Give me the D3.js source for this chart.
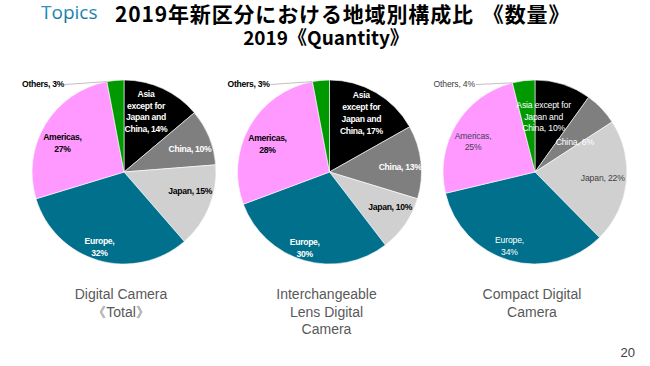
<!DOCTYPE html>
<html><head><meta charset="utf-8">
<script src="https://cdn.jsdelivr.net/npm/d3@7"></script>
<style>
html,body{margin:0;padding:0;background:#fff;}
svg{display:block;}
</style></head>
<body>
<svg id="c" width="650" height="366"></svg>
<script>
// ---------- data ----------
const regions = ["Asia except for Japan and China", "China", "Japan", "Europe", "Americas", "Others"];
const charts = ["Digital Camera 《Total》", "Interchangeable Lens Digital Camera", "Compact Digital Camera"];
const totalValues = [14, 10, 15, 32, 27, 3];
const ilcValues = [17, 13, 10, 30, 28, 3];
const compactValues = [10, 6, 22, 34, 25, 4];
const seriesValues = [totalValues, ilcValues, compactValues];
const captionLines = [["Digital Camera", "《Total》"], ["Interchangeable", "Lens Digital", "Camera"], ["Compact Digital", "Camera"]];
const labelBreaks = [
  [["Asia", "except for", "Japan and", "China, {v}%"], ["China, {v}%"], ["Japan, {v}%"], ["Europe,", "{v}%"], ["Americas,", "{v}%"], ["Others, {v}%"]],
  [["Asia", "except for", "Japan and", "China, {v}%"], ["China, {v}%"], ["Japan, {v}%"], ["Europe,", "{v}%"], ["Americas,", "{v}%"], ["Others, {v}%"]],
  [["Asia except for", "Japan and", "China, {v}%"], ["China, {v}%"], ["Japan, {v}%"], ["Europe,", "{v}%"], ["Americas,", "{v}%"], ["Others, {v}%"]]
];
const titleMain = "2019年新区分における地域別構成比";
const titleTail = "《数量》";
const subtitleText = "2019《Quantity》";
const pageNumber = "20";

// ---------- layout / style ----------
const colors = ["#000000", "#7f7f7f", "#d0d0d0", "#00708c", "#ff99ff", "#009a00"];
const labelColorsBold = ["#ffffff", "#ffffff", "#000000", "#ffffff", "#000000", "#000000"];
const labelColorsThin = ["#ffffff", "#ffffff", "#404040", "#ffffff", "#4a3c58", "#404040"];
// radial factor and angle offset (deg) for each inner label
const labelR = [[0.70, 0.76, 0.75, 0.86, 0.74], [0.73, 0.77, 0.76, 0.87, 0.74], [0.61, 0.54, 0.74, 0.85, 0.75]];
const labelDA = [[-5, 3, -6, 2, -6], [-2, 2, -5, 2, -5], [-9, 7, -1, 3, -5]];

const svg = d3.select("#c");
const R = 92, cy = 172;
const xPos = d3.scalePoint().domain(charts).range([124, 535]);
const color = d3.scaleOrdinal().domain(regions).range(colors);

const pie = d3.pie().sort(null).value(d => d.v);
const arc = d3.arc().innerRadius(0).outerRadius(R);

// ---------- header ----------
const defs = svg.append("defs");
const g1 = defs.append("linearGradient").attr("id", "tg").attr("x1", 0).attr("y1", 0).attr("x2", 0).attr("y2", 1);
g1.append("stop").attr("offset", "0%").attr("stop-color", "#3aa6d6");
g1.append("stop").attr("offset", "100%").attr("stop-color", "#0d6888");

svg.append("text").attr("x", 41).attr("y", 19).attr("fill", "url(#tg)")
  .style("font-family", "'Open Sans','Liberation Sans',sans-serif").style("font-size", "19px").style("font-weight", 400)
  .text("Topics");

const title = svg.append("text").attr("x", 115).attr("y", 22).attr("fill", "#000")
  .style("font-family", "'Noto Sans CJK JP',sans-serif").style("font-size", "21px").style("font-weight", 700)
  .style("letter-spacing", "0.85px");
title.append("tspan").text(titleMain);
title.append("tspan").attr("dx", 9).text(titleTail);

svg.append("text").attr("x", 326).attr("y", 45).attr("text-anchor", "middle").attr("fill", "#000")
  .style("font-family", "'Noto Sans CJK JP',sans-serif").style("font-size", "19px").style("font-weight", 700)
  .text(subtitleText);

// ---------- pies ----------
charts.forEach((name, ci) => {
  const cx = xPos(name);
  const data = regions.map((r, i) => ({ r, v: seriesValues[ci][i], i }));
  const arcs = pie(data);
  const g = svg.append("g").attr("transform", `translate(${cx},${cy})`);
  g.selectAll("path").data(arcs).join("path")
    .attr("d", arc).attr("fill", d => color(d.data.r))
    .attr("stroke", "#ffffff").attr("stroke-width", 0.6);

  const thin = ci === 2;
  const lblColors = thin ? labelColorsThin : labelColorsBold;
  arcs.forEach((a, i) => {
    const lines = labelBreaks[ci][i].map(s => s.replace("{v}", a.data.v));
    let x, y, anchor = "middle";
    if (i === 5) {
      const pa = a.startAngle;
      const px = R * Math.sin(pa), py = -R * Math.cos(pa);
      x = -60; y = -88;
      anchor = "end";
      g.append("line").attr("x1", x + 1).attr("y1", y + 0.5).attr("x2", px).attr("y2", py)
        .attr("stroke", "#b0b0b0").attr("stroke-width", 0.8);
    } else {
      const mid = (a.startAngle + a.endAngle) / 2 + labelDA[ci][i] * Math.PI / 180;
      const rr = R * labelR[ci][i];
      x = rr * Math.sin(mid); y = -rr * Math.cos(mid);
    }
    const lh = 11.8;
    const t = g.append("text").attr("text-anchor", anchor)
      .attr("fill", lblColors[i])
      .style("font-family", "'Liberation Sans',Arial,sans-serif")
      .style("font-size", "8.6px").style("font-weight", thin ? 400 : 700)
      .style("letter-spacing", thin ? "-0.15px" : "-0.3px");
    lines.forEach((ln, k) => {
      t.append("tspan").attr("x", x).attr("y", y + (k - (lines.length - 1) / 2) * lh)
        .attr("dominant-baseline", "central").text(ln);
    });
  });

  const cap = svg.append("text").attr("text-anchor", "middle").attr("fill", "#595959")
    .style("font-family", "'Liberation Sans',Arial,sans-serif").style("font-size", "14px");
  captionLines[ci].forEach((ln, k) => {
    cap.append("tspan").attr("x", cx - 3).attr("y", 299 + k * 17.7).text(ln);
  });
});

svg.append("text").attr("x", 635).attr("y", 357).attr("text-anchor", "end").attr("fill", "#404040")
  .style("font-family", "'Liberation Sans',Arial,sans-serif").style("font-size", "13px").text(pageNumber);
</script>
</body></html>
